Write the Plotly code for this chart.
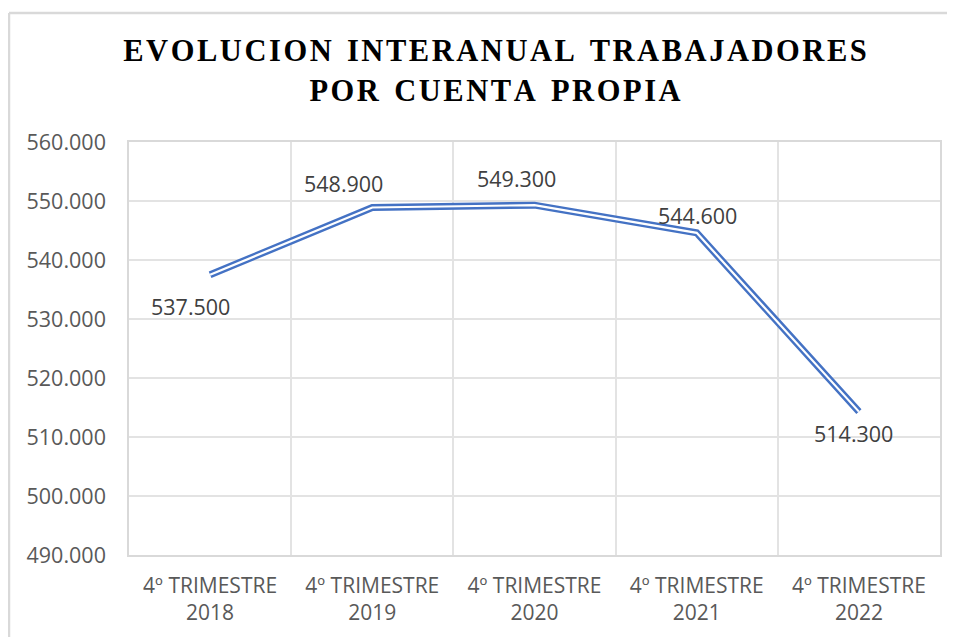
import plotly.graph_objects as go

# Chart data
categories = ['4º TRIMESTRE<br>2018', '4º TRIMESTRE<br>2019', '4º TRIMESTRE<br>2020',
              '4º TRIMESTRE<br>2021', '4º TRIMESTRE<br>2022']
values = [537500, 548900, 549300, 544600, 514300]
value_labels = ['537.500', '548.900', '549.300', '544.600', '514.300']
y_ticks = [490000, 500000, 510000, 520000, 530000, 540000, 550000, 560000]
y_tick_labels = ['490.000', '500.000', '510.000', '520.000', '530.000', '540.000', '550.000', '560.000']

# label offsets in pixels (Excel-style manual placement)
label_dx = [-20, -29, -18, 1, -5]
label_dy = [-32, 24, 27, 17, -22]

TITLE_LINES = ['EVOLUCION INTERANUAL TRABAJADORES', 'POR CUENTA PROPIA']
LINE_COLOR = '#4472C4'
GRID_COLOR = '#E3E3E3'
Y_TICK_FONT = dict(family='Open Sans', size=21.5, color='#595959')
X_TICK_FONT = dict(family='Open Sans', size=21, color='#595959')

# page body adds an 8px offset, margins below are corrected for it
OFFSET = 8


def spaced(text, gap='\u200a'):
    """Add a small gap between letters to mimic the spaced Excel title."""
    words = text.split(' ')
    return (gap * 3 + ' ').join(gap.join(w) for w in words)


fig = go.Figure()

# double line: wide blue stroke with a thin white stroke on top
fig.add_trace(go.Scatter(x=categories, y=values, mode='lines',
                         line=dict(color=LINE_COLOR, width=7), hoverinfo='skip'))
fig.add_trace(go.Scatter(x=categories, y=values, mode='lines',
                         line=dict(color='white', width=2.2), hoverinfo='skip'))

for i, (cat, val) in enumerate(zip(categories, values)):
    fig.add_annotation(x=cat, y=val, text=value_labels[i], showarrow=False,
                       xshift=label_dx[i], yshift=label_dy[i],
                       font=dict(family='Open Sans', size=21.5, color='#404040'))

# outer chart frame: only top and left edges show, the rest is cropped
frame_left = (9 - 129) / 811
frame_top = (555 - 13) / 413
fig.add_shape(type='line', xref='paper', yref='paper',
              x0=frame_left, x1=1.2, y0=frame_top, y1=frame_top,
              line=dict(color='#D9D9D9', width=2.5), layer='below')
fig.add_shape(type='line', xref='paper', yref='paper',
              x0=frame_left, x1=frame_left, y0=-0.5, y1=frame_top,
              line=dict(color='#D9D9D9', width=2.5), layer='below')

fig.update_layout(
    width=955, height=637,
    margin=dict(l=129 - OFFSET, r=955 + OFFSET - 940, t=142 - OFFSET, b=637 + OFFSET - 555),
    paper_bgcolor='white', plot_bgcolor='white',
    showlegend=False,
    title=dict(text='<br>'.join(spaced(t) for t in TITLE_LINES),
               x=(495 - OFFSET) / 955, xanchor='center', xref='container',
               y=1 - 53 / 637, yanchor='top', yref='container',
               font=dict(family='Liberation Serif', size=30.5, color='black', weight='bold')),
    xaxis=dict(type='category', tickson='boundaries', showgrid=True, gridcolor=GRID_COLOR,
               gridwidth=1.5, ticks='', tickfont=X_TICK_FONT, ticklabelstandoff=11,
               showline=True, linecolor='#D9D9D9', linewidth=1.5, mirror=True,
               range=[-0.5, 4.5]),
    yaxis=dict(range=[490000, 560000], tickvals=y_ticks, ticktext=y_tick_labels,
               showgrid=True, gridcolor=GRID_COLOR, gridwidth=1.5, zeroline=False,
               tickfont=Y_TICK_FONT, ticklabelstandoff=17,
               showline=True, linecolor='#D9D9D9', linewidth=1.5, mirror=True),
)

fig.write_html('out.html')
